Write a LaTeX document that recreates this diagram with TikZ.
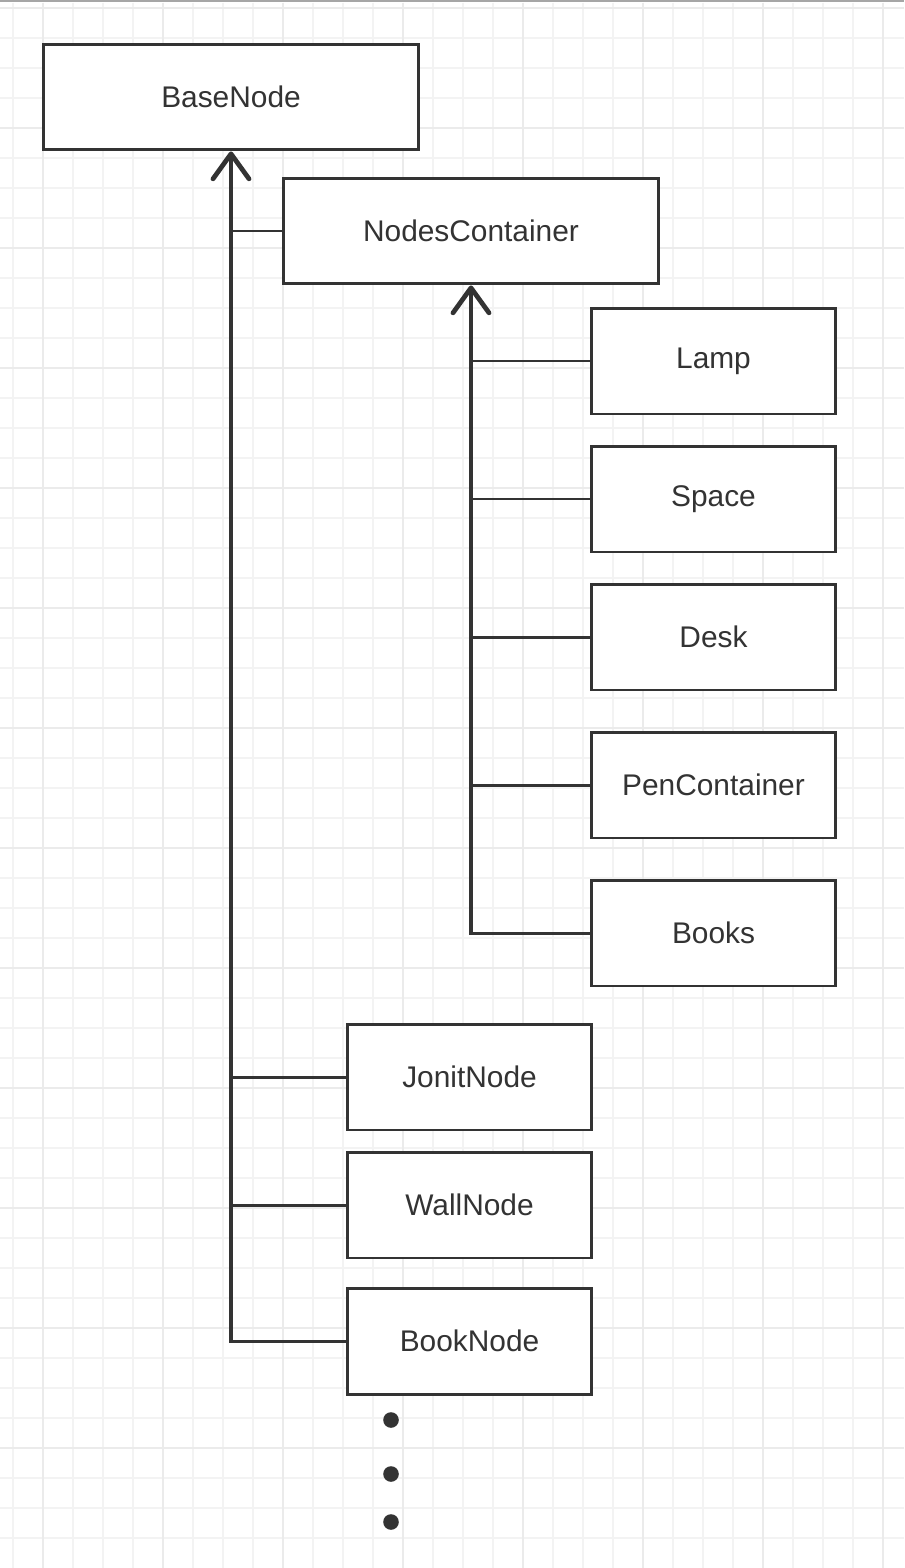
\documentclass[tikz,border=0pt]{standalone}
\usepackage{fontspec}
\setmainfont{Liberation Sans}
\usetikzlibrary{arrows.meta}
\definecolor{ink}{HTML}{333333}
\definecolor{gridminor}{HTML}{F3F3F3}
\definecolor{gridmajor}{HTML}{EBEBEB}
\tikzset{
  classbox/.style={draw=ink, line width=1.7pt, fill=white, text=ink, inner sep=0pt,
    minimum height=2.12cm, font=\fontsize{17}{20}\selectfont},
  bigbox/.style={classbox, minimum width=7.5cm},
  smallbox/.style={classbox, minimum width=4.9cm},
  trunk/.style={draw=ink, line width=2.7pt},
  branch/.style={draw=ink, line width=1.7pt},
  inherit/.style={-{Straight Barb[length=0.5cm, width=0.72cm, line cap=round, line join=round]}}
}
\begin{document}
\begin{tikzpicture}[x=0.02cm, y=-0.02cm]
  % page and grid paper
  \fill[white] (0,0) rectangle (904,1568);
  \useasboundingbox (0,0) rectangle (904,1568);
  \foreach \x in {13,43,...,893}
    \draw[gridminor, line width=0.7pt] (\x,3) -- (\x,1568);
  \foreach \y in {8,38,...,1560}
    \draw[gridminor, line width=0.7pt] (0,\y) -- (904,\y);
  \foreach \x in {43,163,...,883}
    \draw[gridmajor, line width=0.8pt] (\x,3) -- (\x,1568);
  \foreach \y in {8,128,...,1560}
    \draw[gridmajor, line width=0.8pt] (0,\y) -- (904,\y);
  \fill[black!35] (0,0) rectangle (904,2.5);
  % the two parents
  \node[bigbox] (base) at (231,97) {BaseNode};
  \node[bigbox] (container) at (471,231) {NodesContainer};
  % children of NodesContainer
  \foreach \name/\y in {Lamp/361, Space/499, Desk/637, PenContainer/785, Books/933}
    \node[smallbox] (\name) at (713.5,\y) {\name};
  % other children of BaseNode
  \foreach \name/\y in {JonitNode/1077, WallNode/1205, BookNode/1341}
    \node[smallbox] (\name) at (469.5,\y) {\name};
  % tree under NodesContainer
  \foreach \name in {Lamp, Space, Desk, PenContainer, Books}
    \draw[branch] (\name.west) -- (\name.west -| container.south);
  \draw[trunk, inherit] ([yshift=-0.85pt]Books.west -| container.south) -- (container.south);
  % tree under BaseNode
  \foreach \name in {container, JonitNode, WallNode, BookNode}
    \draw[branch] (\name.west) -- (\name.west -| base.south);
  \draw[trunk, inherit] ([yshift=-0.85pt]BookNode.west -| base.south) -- (base.south);
  % more of the same
  \foreach \y in {1420,1474,1522}
    \fill[ink] (391,\y) circle (0.156cm);
\end{tikzpicture}
\end{document}
